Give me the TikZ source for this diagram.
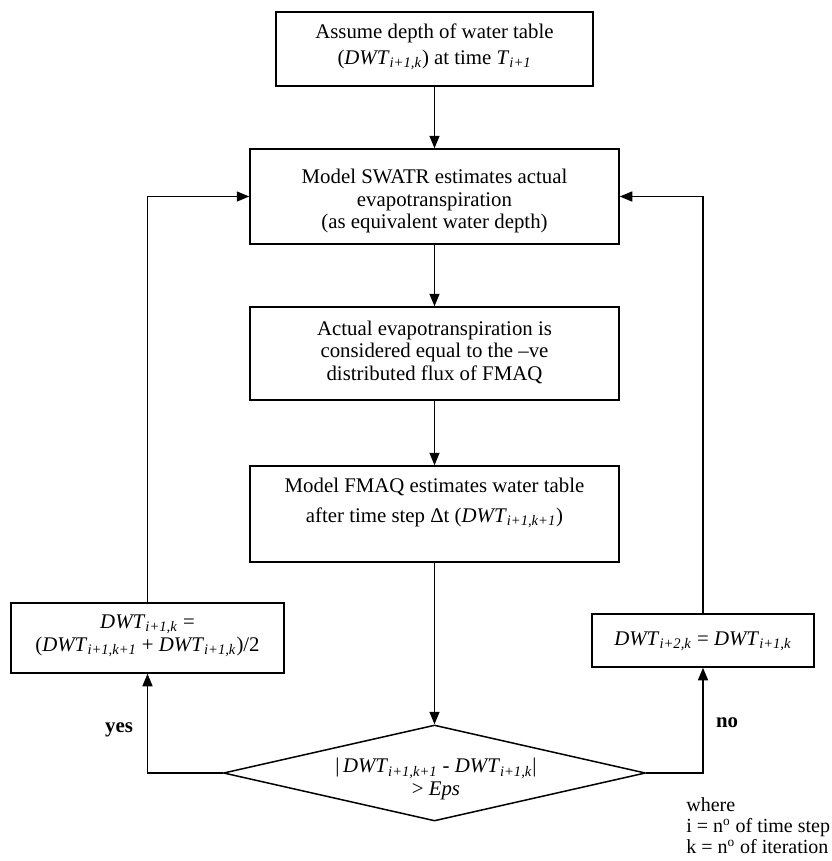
\documentclass[tikz,border=0pt]{standalone}
\usepackage{fontspec}
\setmainfont{Liberation Serif}
\usetikzlibrary{shapes.geometric,arrows.meta}
\newcommand\dwt[1]{\textit{DWT}\textsubscript{\textit{#1}}}
\begin{document}
\begin{tikzpicture}[x=0.6pt,y=-0.6pt,
  box/.style={draw,line width=0.9pt,inner sep=0pt,rectangle},
  txt/.style={align=center,font=\fontsize{12.5}{13.5}\selectfont,inner sep=0pt},
  arr/.style={line width=0.9pt,-{Triangle[length=7.5pt,width=6pt]}},
  lbl/.style={font=\fontsize{12.5}{14}\selectfont\bfseries,inner sep=0pt}]
\fill[white] (0,0) rectangle (832,861);
\useasboundingbox (0,0) rectangle (832,861);
% boxes
\node[box,minimum width=190.2pt,minimum height=44.4pt] (b1) at (434.5,49) {};
\node[txt] (t1) at (434.5,47) {Assume depth of water table\\[2pt](\dwt{i+1,k}) at time \textit{T}\textsubscript{\textit{i+1}}};
\node[box,minimum width=221.4pt,minimum height=57pt] (b2) at (434.5,196.5) {};
\node[txt] (t2) at (434.5,201) {Model SWATR estimates actual\\evapotranspiration\\(as equivalent water depth)};
\node[box,minimum width=221.4pt,minimum height=55.8pt] (b3) at (434.5,353.5) {};
\node[txt] (t3) at (434.5,352) {Actual evapotranspiration is\\considered equal to the –ve\\distributed flux of FMAQ};
\node[box,minimum width=221.4pt,minimum height=57.6pt] (b4) at (434.5,514) {};
\node[txt] (t4) at (434.5,503) {Model FMAQ estimates water table\\[4pt]after time step Δt (\dwt{i+1,k+1})};
\node[box,minimum width=163.8pt,minimum height=42pt] (lb) at (147.5,638) {};
\node[txt] (tl) at (147.5,636) {\dwt{i+1,k} =\\[0.5pt](\dwt{i+1,k+1} + \dwt{i+1,k})/2};
\node[box,minimum width=133.2pt,minimum height=31.8pt] (rb) at (703,640.5) {};
\node[txt] (tr) at (703,641) {\dwt{i+2,k} = \dwt{i+1,k}};
\node[diamond,draw,line width=0.9pt,inner sep=0pt,minimum width=253.2pt,minimum height=57.6pt,shape aspect=4.4] (dia) at (434.5,773) {};
\node[txt] (td) at (436,779) {|\,\dwt{i+1,k+1} - \dwt{i+1,k}|\\> \textit{Eps}};
% connectors
\draw[arr] (b1.south) -- (b2.north);
\draw[arr] (b2.south) -- (b3.north);
\draw[arr] (b3.south) -- (b4.north);
\draw[arr] (b4.south) -- (dia.north);
\draw[arr] (dia.west) -| (lb.south);
\draw[arr] (dia.east) -| (rb.south);
\draw[arr] (lb.north) |- (b2.west);
\draw[arr] (rb.north) |- (b2.east);
% labels
\node[lbl] (yes) at (119,730) {yes};
\node[lbl] (no) at (727,723) {no};
\node[align=left,anchor=west,inner sep=0pt,font=\fontsize{12}{12.6}\selectfont] (where) at (686,826) {where\\i = n\textsuperscript{o} of time step\\k = n\textsuperscript{o} of iteration};
\end{tikzpicture}
\end{document}
